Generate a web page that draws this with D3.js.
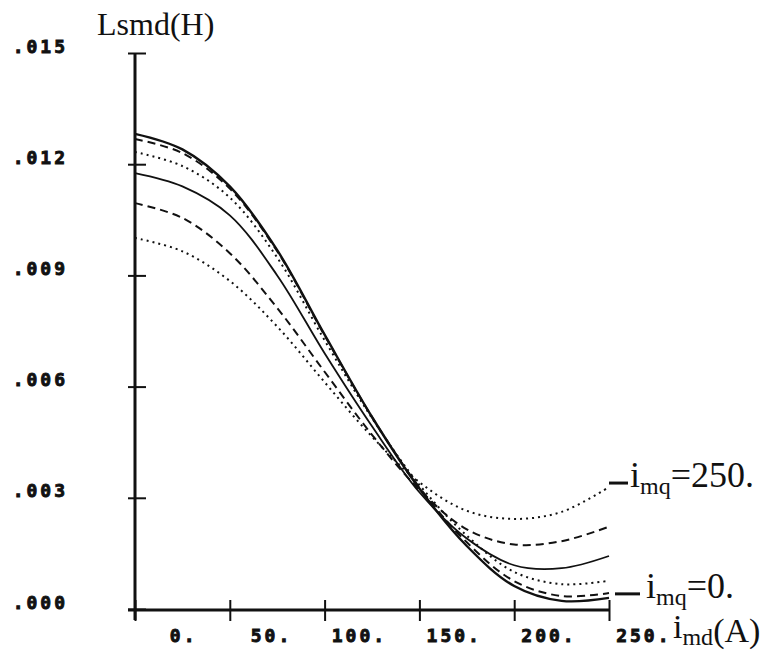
<!DOCTYPE html>
<html><head><meta charset="utf-8">
<script src="https://cdn.jsdelivr.net/npm/d3@7"></script>
<style>html,body{margin:0;padding:0;background:#fff}</style>
</head><body>
<svg id="chart" width="774" height="655"></svg>
<script>
// ---- data ----
const imd = [0, 25, 50, 75, 100, 125, 150, 175, 200, 225, 250];
const imqValues = [0, 50, 100, 150, 200, 250];
const L_imq0   = [0.01282, 0.01240, 0.01140, 0.00968, 0.00740, 0.00518, 0.00325, 0.00170, 0.00062, 0.00022, 0.00030];
const L_imq50  = [0.01268, 0.01230, 0.01134, 0.00965, 0.00738, 0.00518, 0.00328, 0.00180, 0.00075, 0.00035, 0.00043];
const L_imq100 = [0.01233, 0.01195, 0.01110, 0.00948, 0.00725, 0.00515, 0.00335, 0.00198, 0.00100, 0.00067, 0.00076];
const L_imq150 = [0.01176, 0.01140, 0.01062, 0.00900, 0.00690, 0.00493, 0.00315, 0.00190, 0.00118, 0.00110, 0.00143];
const L_imq200 = [0.01095, 0.01055, 0.00960, 0.00812, 0.00640, 0.00470, 0.00322, 0.00215, 0.00174, 0.00183, 0.00222];
const L_imq250 = [0.01001, 0.00965, 0.00885, 0.00762, 0.00612, 0.00465, 0.00342, 0.00265, 0.00243, 0.00262, 0.00329];
const seriesList = [L_imq0, L_imq50, L_imq100, L_imq150, L_imq200, L_imq250];
const xTicks = [0, 50, 100, 150, 200, 250];
const xTickLabels = ["0.", "50.", "100.", "150.", "200.", "250."];
const yTicks = [0, 0.003, 0.006, 0.009, 0.012, 0.015];
const yTickLabels = [".000", ".003", ".006", ".009", ".012", ".015"];

// ---- drawing ----
const svg = d3.select("#chart");
const x = d3.scaleLinear().domain([0, 250]).range([135, 609]);
const y = d3.scaleLinear().domain([0, 0.015]).range([609, 53]);
const ink = "#111";
const dashes = [null, "8,5", "2,4", null, "8,5", "2,4"];
const widths = [2.4, 2.0, 2.0, 1.8, 2.0, 2.0];

const line = d3.line().x((d, i) => x(imd[i])).y(d => y(d)).curve(d3.curveCatmullRom.alpha(0.5));

svg.append("g").selectAll("path").data(seriesList).join("path")
  .attr("d", d => line(d))
  .attr("fill", "none")
  .attr("stroke", ink)
  .attr("stroke-width", (d, i) => widths[i])
  .attr("stroke-dasharray", (d, i) => dashes[i]);

// axes
const monoFont = "'DejaVu Sans Mono', 'Liberation Mono', monospace";
svg.append("line").attr("x1", x(0) - 7).attr("x2", x(250)).attr("y1", y(0) + 1).attr("y2", y(0) + 1)
  .attr("stroke", ink).attr("stroke-width", 3);
svg.append("line").attr("x1", x(0)).attr("x2", x(0)).attr("y1", y(0.015)).attr("y2", y(0) + 11)
  .attr("stroke", ink).attr("stroke-width", 3);

function styleTickText(sel) {
  sel.attr("fill", ink).attr("stroke", ink).attr("stroke-width", 0.9)
    .style("font-family", monoFont).style("font-weight", "bold").style("font-size", "18px")
    .style("letter-spacing", "3px");
}

const xAxis = d3.axisBottom(x).tickValues(xTicks).tickSize(0).tickFormat((d, i) => xTickLabels[i]);
const gx = svg.append("g").attr("transform", `translate(0,${y(0) + 1})`).call(xAxis);
gx.select(".domain").remove();
gx.selectAll(".tick").append("line").attr("y1", -10).attr("y2", 11).attr("stroke", ink).attr("stroke-width", 2);
gx.selectAll(".tick text").attr("x", 62).attr("y", 32).attr("dy", null).attr("text-anchor", "end").call(styleTickText);

const yAxis = d3.axisLeft(y).tickValues(yTicks).tickSize(0).tickFormat((d, i) => yTickLabels[i]);
const gy = svg.append("g").attr("transform", `translate(${x(0)},0)`).call(yAxis);
gy.select(".domain").remove();
gy.selectAll(".tick").append("line").attr("x1", -7).attr("x2", 11).attr("stroke", ink).attr("stroke-width", 2);
gy.selectAll(".tick text").attr("x", -67).attr("y", -1).attr("dy", null).attr("text-anchor", "end").call(styleTickText);

// titles
const serif = "'Liberation Serif', 'Times New Roman', serif";
svg.append("text").attr("x", 97).attr("y", 35).attr("fill", ink)
  .style("font-family", serif).style("font-size", "32px").text("Lsmd(H)");

function subLabel(xp, yp, main, sub, rest, size, subDy, restDy) {
  const t = svg.append("text").attr("x", xp).attr("y", yp).attr("fill", ink)
    .style("font-family", serif).style("font-size", size + "px");
  t.append("tspan").text(main);
  t.append("tspan").attr("dy", subDy).style("font-size", "24px").text(sub);
  t.append("tspan").attr("dy", restDy).text(rest);
  return t;
}
subLabel(673, 638, "i", "md", "(A)", 34, 7, -3);

// curve labels with leader dashes
const labelInfo = [
  {series: L_imq250, text: "=" + imqValues[5] + ".", dashStart: 0, dashLen: 19, gap: 2},
  {series: L_imq0, text: "=" + imqValues[0] + ".", dashStart: 6, dashLen: 25, gap: 6}
];
labelInfo.forEach(info => {
  const yEnd = y(info.series[info.series.length - 1]);
  const xl = x(250) + info.dashStart;
  svg.append("line").attr("x1", xl).attr("x2", xl + info.dashLen).attr("y1", yEnd - 4).attr("y2", yEnd - 4)
    .attr("stroke", ink).attr("stroke-width", 3);
  subLabel(xl + info.dashLen + info.gap, yEnd, "i", "mq", info.text, 36, 7, -7);
});
</script>
</body></html>
